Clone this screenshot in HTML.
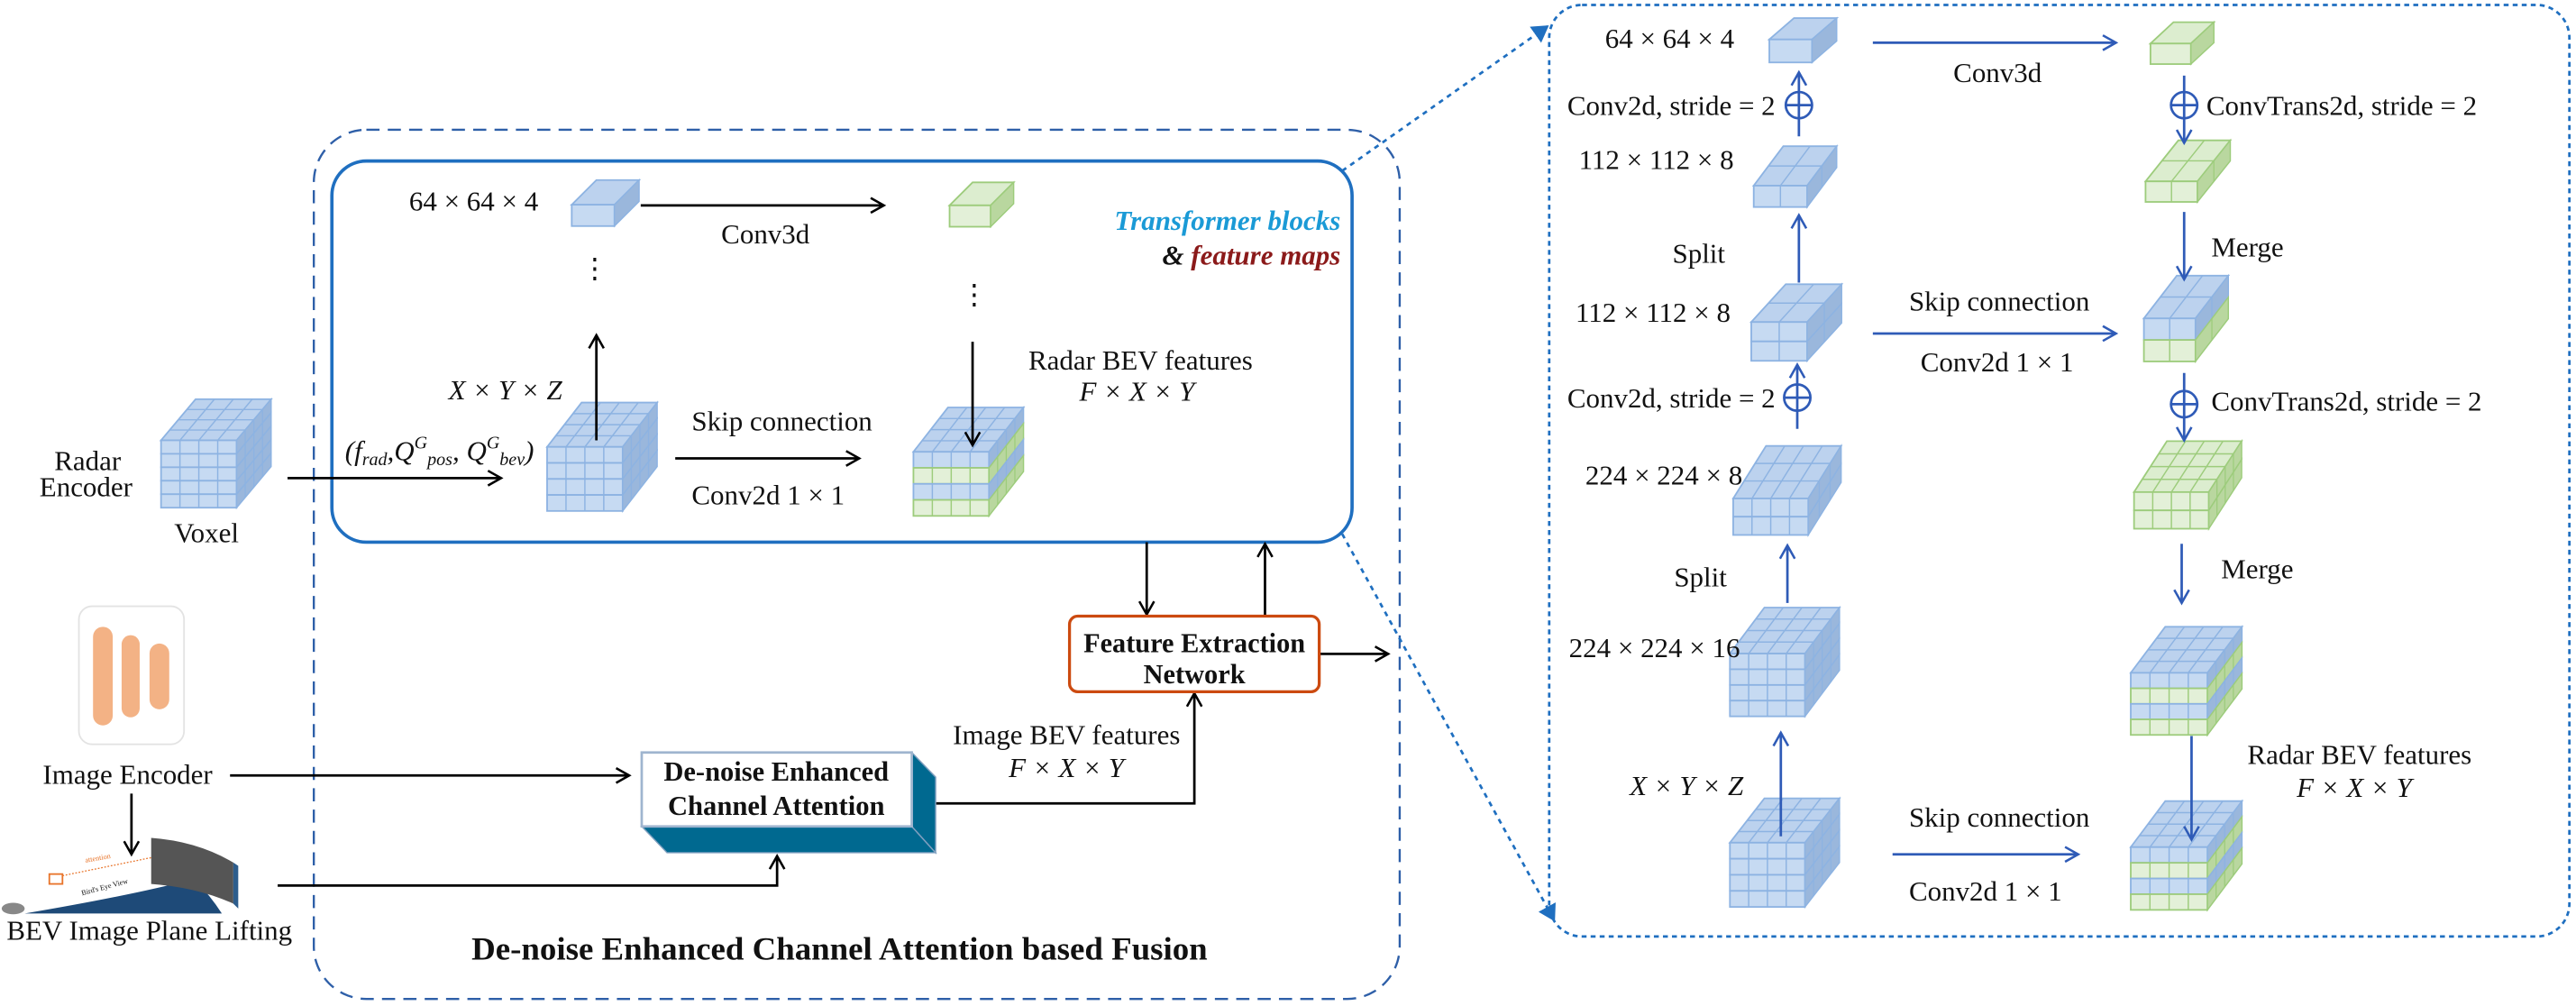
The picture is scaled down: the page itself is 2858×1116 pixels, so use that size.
<!DOCTYPE html>
<html><head><meta charset="utf-8"><style>
html,body{margin:0;padding:0;background:#fff}
svg{display:block}
text{font-family:"Liberation Serif",serif;fill:#111}
</style></head><body>
<svg id="s" width="2858" height="1116" viewBox="0 0 1568 612.3" xmlns="http://www.w3.org/2000/svg">
<defs>
<marker id="ab" markerWidth="12" markerHeight="12" refX="9" refY="6" orient="auto" markerUnits="userSpaceOnUse"><path d="M1,1.5 L9,6 L1,10.5" fill="none" stroke="#000" stroke-width="1.4"/></marker>
<marker id="au" markerWidth="12" markerHeight="12" refX="9" refY="6" orient="auto" markerUnits="userSpaceOnUse"><path d="M1,1.5 L9,6 L1,10.5" fill="none" stroke="#2f5bb7" stroke-width="1.4"/></marker>
<marker id="tri" markerWidth="12" markerHeight="12" refX="9" refY="6" orient="auto" markerUnits="userSpaceOnUse"><path d="M0,0 L10,6 L0,12 z" fill="#1f6fc0"/></marker>
</defs>
<g id="cubes"></g>

<rect x="191" y="79" width="661" height="529" rx="32" fill="none" stroke="#2e5fa8" stroke-width="1.3" stroke-dasharray="8,5"/>
<rect x="202" y="98" width="621" height="232" rx="21" fill="none" stroke="#1f6fc0" stroke-width="2"/>
<line x1="817" y1="104" x2="942" y2="16" stroke="#1f6fc0" stroke-width="1.5" stroke-dasharray="3,3" marker-end="url(#tri)"/>
<line x1="817" y1="325" x2="946" y2="560" stroke="#1f6fc0" stroke-width="1.5" stroke-dasharray="3,3" marker-end="url(#tri)"/>
<rect x="943" y="3" width="621" height="567" rx="20" fill="none" stroke="#1f6fc0" stroke-width="1.5" stroke-dasharray="3,2.5"/>

<g font-size="17">
<text x="249" y="128">64 × 64 × 4</text>
<text x="439" y="148">Conv3d</text>
<text x="362" y="169" text-anchor="middle">⋮</text>
<text x="593" y="185" text-anchor="middle">⋮</text>
<text x="816" y="140" font-style="italic" font-weight="bold" text-anchor="end" style="fill:#1a9ad6">Transformer blocks</text>
<text x="816" y="161" font-style="italic" font-weight="bold" text-anchor="end">&amp; <tspan style="fill:#8b1a1a">feature maps</tspan></text>
<text x="33" y="286">Radar</text>
<text x="24" y="302">Encoder</text>
<text x="106" y="330">Voxel</text>
<text x="210" y="280" font-style="italic">(f<tspan font-size="11" dy="3">rad</tspan><tspan dy="-3">,Q</tspan><tspan font-size="11" dy="-7">G</tspan><tspan font-size="11" dy="10">pos</tspan><tspan dy="-3">, Q</tspan><tspan font-size="11" dy="-7">G</tspan><tspan font-size="11" dy="10">bev</tspan><tspan dy="-3">)</tspan></text>
<text x="273" y="243" font-style="italic">X × Y × Z</text>
<text x="421" y="262">Skip connection</text>
<text x="421" y="307">Conv2d 1 × 1</text>
<text x="626" y="225">Radar BEV features</text>
<text x="657" y="244" font-style="italic">F ×  X × Y</text>
<text x="26" y="477">Image Encoder</text>
<text x="4" y="572">BEV Image Plane Lifting</text>
<text x="580" y="453">Image BEV features</text>
<text x="614" y="473" font-style="italic">F ×  X × Y</text>
</g>

<g stroke="#000" stroke-width="1.5" fill="none">
<line x1="175" y1="291" x2="305" y2="291" marker-end="url(#ab)"/>
<line x1="390" y1="125" x2="538" y2="125" marker-end="url(#ab)"/>
<line x1="411" y1="279" x2="523" y2="279" marker-end="url(#ab)"/>
<line x1="698" y1="330" x2="698" y2="374" marker-end="url(#ab)"/>
<line x1="770" y1="375" x2="770" y2="331" marker-end="url(#ab)"/>
<line x1="803" y1="398" x2="845" y2="398" marker-end="url(#ab)"/>
<line x1="140" y1="472" x2="383" y2="472" marker-end="url(#ab)"/>
<line x1="80" y1="483" x2="80" y2="520" marker-end="url(#ab)"/>
<polyline points="169,539 473,539 473,521" marker-end="url(#ab)"/>
<polyline points="564,489 727,489 727,422" marker-end="url(#ab)"/>
</g>

<rect x="651" y="375" width="152" height="46" rx="5" fill="#fff" stroke="#cc4a10" stroke-width="1.8"/>
<text x="727" y="397" font-size="17" font-weight="bold" text-anchor="middle" textLength="135" lengthAdjust="spacingAndGlyphs">Feature Extraction</text>
<text x="727" y="416" font-size="17" font-weight="bold" text-anchor="middle" textLength="62" lengthAdjust="spacingAndGlyphs">Network</text>

<polygon points="390.6,503 555,503 569.5,519 406,519" fill="#006990" stroke="#7f9fbf" stroke-width="0.8"/>
<polygon points="555,458 569.5,473 569.5,519 555,503" fill="#006990" stroke="#7f9fbf" stroke-width="0.8"/>
<rect x="390.6" y="458" width="164.4" height="45" fill="#fff" stroke="#9fb5cf" stroke-width="1.5"/>
<text x="472.5" y="475" font-size="17" font-weight="bold" text-anchor="middle" textLength="137" lengthAdjust="spacingAndGlyphs">De-noise Enhanced</text>
<text x="472.5" y="496" font-size="17" font-weight="bold" text-anchor="middle" textLength="132" lengthAdjust="spacingAndGlyphs">Channel Attention</text>

<rect x="48" y="369" width="64" height="84" rx="8" fill="#fff" stroke="#e3e3e3" stroke-width="1"/>
<rect x="56.6" y="381.5" width="12" height="60" rx="6" fill="#f3b285"/>
<rect x="74" y="386.6" width="11" height="50" rx="5.5" fill="#f3b285"/>
<rect x="91" y="391.7" width="12" height="40" rx="6" fill="#f3b285"/>

<path d="M15,556 Q80,545 118,535 Q128,545 135,556 Z" fill="#1e4a78"/>
<path d="M92,510 Q120,512 142,525 L142,550 Q120,540 92,538 Z" fill="#555"/>
<path d="M142,525 L145,527 L145,553 L142,550 Z" fill="#2d5d8c"/>
<rect x="30" y="532" width="8" height="6" fill="none" stroke="#e8742a" stroke-width="1"/>
<line x1="38" y1="533" x2="92" y2="522" stroke="#e8742a" stroke-width="0.7" stroke-dasharray="1,1"/>
<text x="52" y="525" font-size="4.5" style="fill:#e8742a" font-family="Liberation Sans" transform="rotate(-10 52 525)">attention</text>
<text x="50" y="545" font-size="4.5" font-family="Liberation Sans" transform="rotate(-15 50 545)">Bird's Eye View</text>
<ellipse cx="8" cy="553" rx="7" ry="3.5" fill="#888"/>

<text x="511" y="584" font-size="20" font-weight="bold" text-anchor="middle" textLength="448" lengthAdjust="spacingAndGlyphs">De-noise Enhanced Channel Attention based Fusion</text>

<g font-size="17">
<text x="977" y="29">64 × 64 × 4</text>
<text x="1189" y="50">Conv3d</text>
<text x="954" y="70">Conv2d, stride = 2</text>
<text x="961" y="103">112 × 112 × 8</text>
<text x="1018" y="160">Split</text>
<text x="959" y="196">112 × 112 × 8</text>
<text x="1162" y="189">Skip connection</text>
<text x="1169" y="226">Conv2d 1 × 1</text>
<text x="954" y="248">Conv2d, stride = 2</text>
<text x="965" y="295">224 × 224 × 8</text>
<text x="1019" y="357">Split</text>
<text x="955" y="400">224 × 224 × 16</text>
<text x="992" y="484" font-style="italic">X × Y × Z</text>
<text x="1162" y="503">Skip connection</text>
<text x="1162" y="548">Conv2d 1 × 1</text>
<text x="1343" y="70">ConvTrans2d, stride = 2</text>
<text x="1346" y="156">Merge</text>
<text x="1346" y="250">ConvTrans2d, stride = 2</text>
<text x="1352" y="352">Merge</text>
<text x="1368" y="465">Radar BEV features</text>
<text x="1398" y="485" font-style="italic">F ×  X × Y</text>
</g>
<g stroke="#2f5bb7" stroke-width="1.5" fill="none">
<line x1="1140" y1="26" x2="1288" y2="26" marker-end="url(#au)"/>
<line x1="1095" y1="83" x2="1095" y2="44" marker-end="url(#au)"/>
<circle cx="1095" cy="64" r="8"/><line x1="1087" y1="64" x2="1103" y2="64"/>
<line x1="1095" y1="172" x2="1095" y2="131" marker-end="url(#au)"/>
<line x1="1140" y1="203" x2="1288" y2="203" marker-end="url(#au)"/>
<line x1="1094" y1="261" x2="1094" y2="222" marker-end="url(#au)"/>
<circle cx="1094" cy="242" r="8"/><line x1="1086" y1="242" x2="1102" y2="242"/>
<line x1="1088" y1="367" x2="1088" y2="332" marker-end="url(#au)"/>
<line x1="1152" y1="520" x2="1265" y2="520" marker-end="url(#au)"/>
<line x1="1329.5" y1="46" x2="1329.5" y2="87" marker-end="url(#au)"/>
<circle cx="1329.5" cy="64" r="8"/><line x1="1321.5" y1="64" x2="1337.5" y2="64"/>
<line x1="1329.5" y1="129" x2="1329.5" y2="170" marker-end="url(#au)"/>
<line x1="1329.5" y1="227" x2="1329.5" y2="268" marker-end="url(#au)"/>
<circle cx="1329.5" cy="246" r="8"/><line x1="1321.5" y1="246" x2="1337.5" y2="246"/>
<line x1="1328" y1="331" x2="1328" y2="367" marker-end="url(#au)"/>
<line x1="1084" y1="509" x2="1084" y2="446" marker-end="url(#au)"/>
<line x1="1334" y1="448" x2="1334" y2="511" marker-end="url(#au)"/>
</g>
<g stroke="#000" stroke-width="1.5" fill="none">
<line x1="363" y1="268" x2="363" y2="204" marker-end="url(#ab)"/>
<line x1="592" y1="208" x2="592" y2="271" marker-end="url(#ab)"/>
</g>
</svg>
<script>
var NS="http://www.w3.org/2000/svg";
var C={b:{f:"#c6daf2",t:"#bcd2ee",s:"#9ab7dc",l:"#8db3e2"},g:{f:"#e3f0d8",t:"#dcedcf",s:"#b9d79f",l:"#9dcc7c"}};
function el(p,tag,a){var e=document.createElementNS(NS,tag);for(var k in a)e.setAttribute(k,a[k]);p.appendChild(e);return e;}
function cube(x,y,w,h,ox,oy,cols,rows,dep,topc){
 var g=document.getElementById("cubes");
 var rh=h/rows.length;
 var tc=C[topc||rows[0]];
 el(g,"polygon",{points:[x,y,x+ox,y-oy,x+w+ox,y-oy,x+w,y].join(" "),fill:tc.t,stroke:tc.l,"stroke-width":1});
 for(var i=1;i<cols;i++){var xx=x+w*i/cols;el(g,"line",{x1:xx,y1:y,x2:xx+ox,y2:y-oy,stroke:tc.l,"stroke-width":0.8});}
 for(var j=1;j<dep;j++){var dx=ox*j/dep,dy=oy*j/dep;el(g,"line",{x1:x+dx,y1:y-dy,x2:x+w+dx,y2:y-dy,stroke:tc.l,"stroke-width":0.8});}
 for(var r=0;r<rows.length;r++){
  var c=C[rows[r]],yy=y+r*rh;
  el(g,"rect",{x:x,y:yy,width:w,height:rh,fill:c.f,stroke:c.l,"stroke-width":1});
  for(var i=1;i<cols;i++){var xx=x+w*i/cols;el(g,"line",{x1:xx,y1:yy,x2:xx,y2:yy+rh,stroke:c.l,"stroke-width":0.8});}
  el(g,"polygon",{points:[x+w,yy,x+w+ox,yy-oy,x+w+ox,yy+rh-oy,x+w,yy+rh].join(" "),fill:c.s,stroke:c.l,"stroke-width":0.8});
  for(var j=1;j<dep;j++){var dx=ox*j/dep,dy=oy*j/dep;el(g,"line",{x1:x+w+dx,y1:yy-dy,x2:x+w+dx,y2:yy+rh-dy,stroke:c.l,"stroke-width":0.7});}
 }
}
cube(348,124.6,26,13,15,15,1,["b"],1);
cube(578,125,25,13,14,14,1,["g"],1);
cube(98,268,46,41,21,25,4,["b","b","b","b","b"],4);
cube(333,272,46,39,21,27,4,["b","b","b","b"],4);
cube(556,275,46,39,21,27,4,["b","g","b","g"],4,"b");
cube(1077,24,26,14,15,13,1,["b"],1);
cube(1309,26.5,24.6,12.5,14,13,1,["g"],1);
cube(1067.5,113,32.5,13,18,24,2,["b"],2);
cube(1066,196,34,23.6,21,23,2,["b","b"],2);
cube(1055,303.4,45.7,22.2,20,32,4,["b","b"],3);
cube(1053,397.8,45.7,38.2,21,28,4,["b","b","b","b"],4);
cube(1053,512.9,45.7,39.1,21,27,4,["b","b","b","b"],4);
cube(1306,110.4,31.6,12.5,20,25,2,["g"],2);
cube(1305,193.8,31.4,26.2,20,26,2,["b","g"],2,"b");
cube(1299,299.5,45.5,22.3,20,31,4,["g","g"],4);
cube(1297,409.5,46.7,37.8,21,28,4,["b","g","b","g"],4,"b");
cube(1297,515.6,46.7,38.2,21,28,4,["b","g","b","g"],4,"b");
</script>
</body></html>
